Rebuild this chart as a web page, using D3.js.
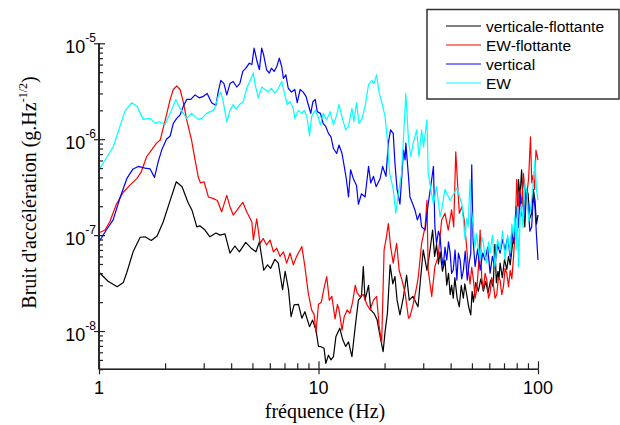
<!DOCTYPE html>
<html><head><meta charset="utf-8">
<script src="https://cdn.jsdelivr.net/npm/d3@7"></script>
<style>body{margin:0;background:#fff}svg{display:block}</style>
</head><body><svg id="c" width="620" height="425"></svg>
<script>
// ---------- data ----------
const seriesNames = ["verticale-flottante", "EW-flottante", "vertical", "EW"];
const xTickValues = [1, 10, 100];
const xTickLabels = ["1", "10", "100"];
const yTickValues = [1e-5, 1e-6, 1e-7, 1e-8];
const yTickExponents = ["-5", "-6", "-7", "-8"];

// [frequency (Hz), noise (g.Hz^-1/2)]
const verticaleFlottante = [[1.0,4.1e-8],[1.1,3.3e-8],[1.21,2.9e-8],[1.29,3.2e-8],[1.34,4.1e-8],[1.43,6.7e-8],[1.54,9.5e-8],[1.62,9.6e-8],[1.73,8.8e-8],[1.84,9.8e-8],[1.96,1.37e-7],[2.11,2.3e-7],[2.25,3.6e-7],[2.39,3.2e-7],[2.55,2.16e-7],[2.65,1.83e-7],[2.79,1.22e-7],[2.88,1.25e-7],[3.04,1.13e-7],[3.2,9.6e-8],[3.41,1.05e-7],[3.56,1.0e-7],[3.75,1.03e-7],[3.95,6.5e-8],[4.16,7.7e-8],[4.36,6.7e-8],[4.66,8.4e-8],[4.97,7.2e-8],[5.19,6.7e-8],[5.38,8.5e-8],[5.63,4.3e-8],[5.86,4.9e-8],[6.05,4.5e-8],[6.33,5.6e-8],[6.56,5.1e-8],[6.86,2.7e-8],[7.05,4.2e-8],[7.3,2.7e-8],[7.5,1.41e-8],[7.74,1.87e-8],[8.1,1.9e-8],[8.4,1.36e-8],[8.67,1.59e-8],[9.1,1.11e-8],[9.4,1.3e-8],[9.74,1.02e-8],[10.0,6.9e-9],[10.2,6.9e-9],[10.6,6.6e-9],[10.8,4.6e-9],[11.1,5.6e-9],[11.4,5.0e-9],[11.7,5.4e-9],[12.0,8.7e-9],[12.5,1.07e-8],[12.9,8.1e-9],[13.3,6.9e-9],[13.7,7.7e-9],[14.2,5.4e-9],[14.7,1.11e-8],[15.2,2.1e-8],[15.7,2.3e-8],[16.0,4.7e-8],[16.3,2.1e-8],[16.9,3.0e-8],[17.3,1.66e-8],[17.9,1.53e-8],[18.5,1.3e-8],[19.1,8.7e-9],[19.7,6.1e-9],[20.1,9.8e-9],[20.6,1.53e-8],[21.2,4.9e-8],[21.8,3.1e-8],[22.3,3.7e-8],[22.8,2.1e-8],[23.5,1.47e-8],[24.4,2.3e-8],[25.2,3.8e-8],[25.9,2.1e-8],[26.9,2.3e-8],[28.4,1.79e-8],[30.0,7.0e-8],[31.2,4.3e-8],[32.0,6.2e-8],[33.1,1.13e-7],[33.8,6.0e-8],[34.5,8.0e-8],[35.2,5.0e-8],[35.8,6.7e-8],[36.7,4.2e-8],[37.7,5.5e-8],[38.4,3.0e-8],[39.1,4.0e-8],[39.8,2.4e-8],[40.4,3.0e-8],[41.1,2.2e-8],[41.8,3.6e-8],[42.8,2.2e-8],[43.8,1.79e-8],[44.7,3.0e-8],[45.7,2.2e-8],[46.4,3.1e-8],[47.2,2.5e-8],[48.3,1.8e-8],[49.4,1.47e-8],[50.1,2.6e-8],[50.8,2.0e-8],[52.0,3.2e-8],[53.5,2.6e-8],[54.9,3.5e-8],[56.4,2.6e-8],[57.8,3.3e-8],[59.2,2.5e-8],[60.8,3.4e-8],[62.5,2.9e-8],[63.6,8.0e-8],[64.6,3.2e-8],[65.7,4.2e-8],[66.4,3.5e-8],[67.2,5.1e-8],[68.8,3.6e-8],[70.4,5.6e-8],[72.1,4.4e-8],[73.4,6.0e-8],[74.7,4.9e-8],[76.0,7.0e-8],[77.4,9.6e-8],[78.5,1.22e-7],[79.5,2.0e-7],[80.5,1.5e-7],[81.5,3.8e-7],[82.8,2.5e-7],[84.2,4.8e-7],[85.6,2.0e-7],[87.1,1.22e-7],[88.6,3.0e-7],[90.1,2.7e-7],[91.8,1.5e-7],[93.6,1.69e-7],[95.2,3.0e-7],[96.9,2.3e-7],[98.4,1.3e-7],[100,1.62e-7]];

const ewFlottante = [[1.0,1.06e-7],[1.065,1.13e-7],[1.12,1.38e-7],[1.2,2.1e-7],[1.29,2.8e-7],[1.38,3.3e-7],[1.49,3.9e-7],[1.56,4.6e-7],[1.65,6.6e-7],[1.74,7.8e-7],[1.83,9.1e-7],[1.9,9.8e-7],[1.96,1.3e-6],[2.03,1.79e-6],[2.11,2.6e-6],[2.18,3.3e-6],[2.26,3.6e-6],[2.34,3.3e-6],[2.42,2.46e-6],[2.51,1.59e-6],[2.64,9.8e-7],[2.74,6.1e-7],[2.83,4.06e-7],[2.9,3.5e-7],[3.01,3.6e-7],[3.15,2.5e-7],[3.32,2.4e-7],[3.46,2.3e-7],[3.62,1.75e-7],[3.82,2.6e-7],[3.95,1.98e-7],[4.09,1.62e-7],[4.31,1.9e-7],[4.52,2.2e-7],[4.71,1.75e-7],[4.97,1.37e-7],[5.05,8.9e-8],[5.23,1.48e-7],[5.42,8.2e-8],[5.6,9.2e-8],[5.8,7.9e-8],[6.02,8.9e-8],[6.23,6.7e-8],[6.45,7.3e-8],[6.68,6.0e-8],[6.92,6.7e-8],[7.16,5.1e-8],[7.42,6.5e-8],[7.68,4.9e-8],[7.95,6.0e-8],[8.4,7.6e-8],[8.67,4.7e-8],[8.98,2.5e-8],[9.3,1.66e-8],[9.54,1.5e-8],[9.74,9.7e-9],[10.0,1.9e-8],[10.3,2.0e-8],[10.6,2.8e-8],[10.9,3.7e-8],[11.2,2.1e-8],[11.5,2.3e-8],[11.9,1.34e-8],[12.2,1.9e-8],[12.4,1.66e-8],[12.8,1.02e-8],[13.1,1.41e-8],[13.5,1.66e-8],[13.9,1.53e-8],[14.3,2.0e-8],[14.7,3.0e-8],[15.0,2.5e-8],[15.4,2.3e-8],[16.0,2.4e-8],[16.6,1.9e-8],[17.2,1.66e-8],[17.8,2.1e-8],[18.4,2.3e-8],[18.9,1.11e-8],[19.4,7.5e-9],[19.9,7.0e-8],[20.4,9.6e-8],[20.8,1.32e-7],[21.3,7.6e-8],[21.9,5.1e-8],[22.7,8.2e-8],[23.3,4.3e-8],[24.0,3.4e-8],[24.8,2.5e-8],[25.7,1.36e-8],[26.1,1.41e-8],[27.0,1.9e-8],[28.0,2.9e-8],[28.5,3.7e-8],[29.5,8.2e-8],[30.6,1.22e-7],[31.2,2.3e-7],[31.6,4.3e-8],[32.8,2.3e-8],[33.9,4.7e-8],[35.1,6.0e-8],[36.4,1.44e-7],[37.7,1.69e-7],[39.0,1.13e-7],[40.4,1.83e-7],[41.3,1.22e-7],[42.2,7.4e-7],[42.8,4.2e-7],[43.8,1.69e-7],[45.0,1.98e-7],[46.1,1.44e-7],[47.3,7.6e-8],[48.1,4.5e-8],[49.0,3.1e-8],[49.9,4.6e-8],[50.8,3.4e-8],[51.7,2.2e-8],[52.6,2.7e-8],[53.5,4.5e-8],[54.5,1.13e-7],[55.4,3.6e-8],[56.4,2.7e-8],[57.4,4.0e-8],[58.5,3.4e-8],[59.5,2.2e-8],[60.5,2.5e-8],[61.5,3.6e-8],[62.6,3.1e-8],[63.7,2.2e-8],[64.9,2.4e-8],[66.0,3.6e-8],[67.2,3.4e-8],[68.4,2.4e-8],[69.6,2.9e-8],[70.8,4.5e-8],[72.1,4.0e-8],[73.4,2.9e-8],[74.7,4.3e-8],[76.0,3.5e-8],[77.4,6.0e-8],[78.7,1.1e-7],[80,3.8e-7],[81.4,2.0e-7],[82.9,3.0e-7],[84.4,2.0e-7],[85.9,4.4e-7],[87.5,2.4e-7],[89.1,2.7e-7],[90.7,4.0e-7],[92.4,1.06e-6],[93.7,3.5e-7],[95,4.2e-7],[96.5,3.0e-7],[97.9,7.7e-7],[100,6.1e-7]];

const vertical = [[1.0,8.5e-8],[1.08,1.13e-7],[1.16,1.44e-7],[1.25,2.5e-7],[1.34,3.9e-7],[1.43,4.9e-7],[1.51,5.2e-7],[1.62,5.0e-7],[1.71,4.9e-7],[1.79,4.0e-7],[1.86,5.8e-7],[1.93,7.7e-7],[2.03,1.0e-6],[2.11,1.08e-6],[2.18,1.46e-6],[2.26,1.65e-6],[2.34,1.79e-6],[2.42,2.2e-6],[2.51,2.6e-6],[2.62,2.6e-6],[2.74,2.9e-6],[2.86,2.7e-6],[2.99,2.8e-6],[3.11,3.0e-6],[3.26,2.4e-6],[3.41,2.25e-6],[3.49,3.1e-6],[3.59,4.1e-6],[3.71,3.8e-6],[3.82,2.9e-6],[3.95,3.8e-6],[4.09,4.0e-6],[4.24,3.5e-6],[4.38,3.8e-6],[4.52,5.1e-6],[4.67,5.5e-6],[4.84,6.2e-6],[4.97,6.0e-6],[5.09,8.9e-6],[5.23,6.7e-6],[5.38,5.3e-6],[5.51,8.9e-6],[5.63,7.5e-6],[5.8,5.3e-6],[5.97,4.9e-6],[6.1,5.5e-6],[6.28,5.1e-6],[6.45,5.7e-6],[6.63,7.0e-6],[6.8,5.7e-6],[6.92,4.3e-6],[7.1,4.7e-6],[7.28,3.4e-6],[7.54,3.1e-6],[7.8,3.3e-6],[8.0,2.4e-6],[8.25,3.3e-6],[8.52,3.1e-6],[8.77,2.8e-6],[8.98,2.3e-6],[9.22,1.86e-6],[9.43,2.46e-6],[9.66,2.6e-6],[9.87,1.94e-6],[10.2,1.86e-6],[10.5,1.46e-6],[10.8,1.35e-6],[11.1,1.15e-6],[11.4,1.06e-6],[11.7,8.0e-7],[12.1,7.1e-7],[12.4,8.7e-7],[12.8,7.1e-7],[13.1,5.2e-7],[13.4,3.8e-7],[13.7,2.5e-7],[14.0,4.8e-7],[14.4,3.9e-7],[14.9,3.3e-7],[15.2,2.1e-7],[15.7,2.7e-7],[16.3,2.5e-7],[16.9,5.2e-7],[17.3,3.5e-7],[17.8,4.1e-7],[18.3,3.2e-7],[19.1,3.9e-7],[19.6,5.2e-7],[20.3,4.1e-7],[20.8,9.1e-7],[21.3,1.25e-6],[21.9,1.15e-6],[22.3,5.6e-7],[22.8,3.0e-7],[23.5,2.1e-7],[24.4,7.7e-7],[24.8,6.1e-7],[25.0,9.1e-7],[25.7,4.1e-7],[26.1,2.5e-7],[26.9,2.1e-7],[27.5,1.83e-7],[28.2,1.44e-7],[29.0,1.69e-7],[29.5,1.22e-7],[30.6,1.13e-7],[31.6,2.1e-7],[32.5,3.3e-7],[33.4,5.2e-7],[33.9,1.22e-7],[34.5,8.2e-8],[35.2,1.1e-7],[35.8,9.6e-8],[36.4,6.0e-8],[37.0,4.7e-8],[37.7,7.5e-8],[38.4,5.5e-8],[39.1,8.5e-8],[39.8,6.5e-8],[40.4,4.0e-8],[41.1,4.3e-8],[41.9,7.0e-8],[42.7,3.4e-8],[43.4,6.5e-8],[44.2,5.5e-8],[44.9,3.5e-8],[45.7,4.3e-8],[46.6,6.8e-8],[47.6,3.4e-8],[48.5,5.0e-8],[49.4,6.5e-8],[49.9,5.4e-7],[50.6,8.9e-8],[51.7,4.7e-8],[53.1,7.2e-8],[54.5,4.3e-8],[56.0,6.5e-8],[57.4,5.5e-8],[59.0,7.5e-8],[60.5,4.0e-8],[62.0,6.0e-8],[63.6,4.7e-8],[65.4,8.0e-8],[67.2,6.5e-8],[69.0,9.0e-8],[70.8,7.0e-8],[72.7,9.5e-8],[74.7,6.0e-8],[76.0,1.1e-7],[77.4,8.2e-8],[78.7,1.4e-7],[80.0,1.83e-7],[81.4,1.2e-7],[82.9,2.7e-7],[84.4,1.6e-7],[85.9,1.44e-7],[88.0,3.0e-7],[90.1,2.1e-7],[91.8,1.1e-7],[93.6,1.22e-7],[95.2,2.6e-7],[96.9,1.98e-7],[98.4,1.0e-7],[100,5.5e-8]];

const ew = [[1.0,4.8e-7],[1.16,8.3e-7],[1.31,1.94e-6],[1.41,2.4e-6],[1.49,2.2e-6],[1.59,1.61e-6],[1.71,1.65e-6],[1.8,1.46e-6],[1.88,1.52e-6],[2.0,1.43e-6],[2.11,1.86e-6],[2.24,2.6e-6],[2.34,2.1e-6],[2.42,1.86e-6],[2.51,1.65e-6],[2.64,1.86e-6],[2.83,1.61e-6],[2.95,1.66e-6],[3.09,1.86e-6],[3.32,2.0e-6],[3.38,2.15e-6],[3.49,2.8e-6],[3.59,3.1e-6],[3.68,2.46e-6],[3.82,1.52e-6],[3.95,2.0e-6],[4.09,2.3e-6],[4.21,2.05e-6],[4.36,2.3e-6],[4.54,2.46e-6],[4.71,3.4e-6],[4.88,4.1e-6],[5.05,4.9e-6],[5.13,3.8e-6],[5.32,2.7e-6],[5.51,3.5e-6],[5.7,3.3e-6],[5.9,3.1e-6],[6.1,3.4e-6],[6.33,3.0e-6],[6.56,3.4e-6],[6.8,4.0e-6],[7.05,2.8e-6],[7.2,2.3e-6],[7.42,2.46e-6],[7.68,2.1e-6],[7.8,1.65e-6],[8.1,2.0e-6],[8.4,1.86e-6],[8.6,2.0e-6],[8.85,1.72e-6],[9.1,1.08e-6],[9.3,1.72e-6],[9.66,2.0e-6],[10.0,1.65e-6],[10.2,1.41e-6],[10.5,1.86e-6],[10.9,1.59e-6],[11.3,1.94e-6],[11.7,1.41e-6],[12.1,1.79e-6],[12.4,2.3e-6],[12.9,1.59e-6],[13.3,1.25e-6],[13.7,1.35e-6],[14.2,2.1e-6],[14.5,1.52e-6],[14.9,2.4e-6],[15.3,1.46e-6],[15.8,1.66e-6],[16.3,2.2e-6],[16.9,3.7e-6],[17.5,4.1e-6],[17.9,3.8e-6],[18.4,4.7e-6],[18.9,3.0e-6],[19.4,2.46e-6],[20.1,1.72e-6],[20.6,9.8e-7],[20.8,6.6e-7],[21.1,4.4e-7],[21.9,3.0e-7],[22.5,1.69e-7],[23.1,2.7e-7],[23.9,4.4e-7],[24.5,1.25e-6],[25.0,3.0e-6],[25.7,9.8e-7],[26.3,6.6e-7],[27.0,9.1e-7],[28.0,1.25e-6],[28.7,6.6e-7],[29.5,1.25e-6],[30.1,8.3e-7],[31.2,1.59e-6],[31.6,4.4e-7],[32.5,3.0e-7],[33.4,2.1e-7],[34.5,3.2e-7],[35.8,1.56e-7],[36.4,1.83e-7],[37.7,3.0e-7],[39.8,2.3e-7],[42.7,3.1e-7],[45.0,2.1e-7],[46.5,9.2e-8],[47.3,1.5e-7],[48.1,1.22e-7],[49.0,3.8e-7],[49.8,1.8e-7],[50.6,1.27e-7],[51.6,7.5e-8],[52.6,1.04e-7],[53.5,7.0e-8],[54.5,5.5e-8],[55.4,9.5e-8],[56.4,8.2e-8],[57.4,6.0e-8],[58.5,5.1e-8],[59.5,8.5e-8],[60.5,6.5e-8],[62.0,1.0e-7],[63.6,4.7e-8],[65.4,9.0e-8],[67.2,7.0e-8],[69.0,1.1e-7],[70.8,5.5e-8],[72.7,1.0e-7],[74.7,6.5e-8],[76.0,1.3e-7],[77.4,9.6e-8],[78.5,1.6e-7],[79.5,7.0e-8],[80.5,2.0e-7],[81.6,4.7e-8],[82.9,1.5e-7],[84.2,2.1e-7],[85.5,1.2e-7],[87.2,3.5e-7],[89.1,2.7e-7],[90.7,1.4e-7],[92.4,1.83e-7],[94.6,3.0e-7],[96.9,6.1e-7],[98.4,3.0e-7],[100,2.3e-7]];

// ---------- drawing ----------
const seriesData = [verticaleFlottante, ewFlottante, vertical, ew];
const colors = ["#000000", "#ff0000", "#0000ff", "#00ffff"];
const sans = "'Liberation Sans', Arial, sans-serif";
const serif = "'Liberation Serif', 'Times New Roman', serif";

const svg = d3.select("#c");
const x = d3.scaleLog().domain([1, 100]).range([99, 538]);
const y = d3.scaleLog().domain([3.99e-9, 1e-5]).range([369.3, 43.3]);

// series
const line = d3.line().x(d => x(d[0])).y(d => y(d[1]));
seriesData.forEach((s, i) => {
  svg.append("path").datum(s).attr("d", line)
    .attr("fill", "none").attr("stroke", colors[i])
    .attr("stroke-width", 1.2).attr("stroke-linejoin", "round");
});

// minor tick values
const xMinor = [];
[1, 10].forEach(dec => { for (let m = 2; m <= 9; m++) xMinor.push(m * dec); });
const yMinor = [];
[1e-9, 1e-8, 1e-7, 1e-6].forEach(dec => { for (let m = 2; m <= 9; m++) { const v = m * dec; if (v >= 3.99e-9 && v < 1e-5) yMinor.push(v); } });

function styleAxis(g) {
  g.select(".domain").attr("stroke", "#222").attr("stroke-width", 1.3);
  g.selectAll(".tick line").attr("stroke", "#222").attr("stroke-width", 1.2);
}

// x axis
const gx = svg.append("g").attr("transform", "translate(0,369.3)");
gx.append("g").call(d3.axisBottom(x).tickValues(xMinor).tickFormat("").tickSizeInner(-6).tickSizeOuter(0)).call(styleAxis);
gx.append("g").call(d3.axisBottom(x).tickValues(xTickValues).tickFormat("").tickSizeInner(5).tickSizeOuter(0)).call(styleAxis);
gx.append("g").call(d3.axisBottom(x).tickValues(xTickValues).tickFormat("").tickSizeInner(-8).tickSizeOuter(0)).call(styleAxis);
gx.selectAll(".domain").attr("d", `M${x(1)},0H${x(100)}`);

xTickValues.forEach((v, i) => {
  svg.append("text").attr("x", x(v)).attr("y", 393.5).attr("text-anchor", "middle")
    .attr("font-family", sans).attr("font-size", 18).attr("fill", "#000").text(xTickLabels[i]);
});

// y axis
const gy = svg.append("g").attr("transform", "translate(99,0)");
gy.append("g").call(d3.axisLeft(y).tickValues(yMinor).tickFormat("").tickSizeInner(-4).tickSizeOuter(0)).call(styleAxis);
gy.append("g").call(d3.axisLeft(y).tickValues(yTickValues).tickFormat("").tickSizeInner(5).tickSizeOuter(0)).call(styleAxis);
gy.append("g").call(d3.axisLeft(y).tickValues(yTickValues).tickFormat("").tickSizeInner(-6).tickSizeOuter(0)).call(styleAxis);
gy.selectAll(".domain").attr("d", `M0,${y(1e-5)}V${y(3.99e-9)}`);

yTickValues.forEach((v, i) => {
  const t = svg.append("text").attr("x", 96).attr("y", y(v) + 10).attr("text-anchor", "end")
    .attr("font-family", sans).attr("font-size", 18).attr("fill", "#000");
  t.append("tspan").text("10");
  t.append("tspan").attr("dy", -11).attr("font-size", 12).text(yTickExponents[i]);
});

// axis titles
svg.append("text").attr("x", 325).attr("y", 418).attr("text-anchor", "middle")
  .attr("font-family", serif).attr("font-size", 20).attr("fill", "#000").text("fréquence (Hz)");

const yt = svg.append("text").attr("transform", "translate(36,192.5) rotate(-90)")
  .attr("text-anchor", "middle").attr("font-family", serif).attr("font-size", 20).attr("fill", "#000");
yt.append("tspan").text("Bruit d'accélération (g.Hz");
yt.append("tspan").attr("dy", -9).attr("font-size", 12).text("-1/2");
yt.append("tspan").attr("dy", 9).text(")");

// legend
const lg = svg.append("g");
lg.append("rect").attr("x", 427).attr("y", 9.5).attr("width", 192).attr("height", 89.5)
  .attr("fill", "#fff").attr("stroke", "#333").attr("stroke-width", 1.5);
seriesNames.forEach((name, i) => {
  const cy = 26 + i * 19;
  lg.append("line").attr("x1", 446).attr("x2", 481).attr("y1", cy).attr("y2", cy)
    .attr("stroke", colors[i]).attr("stroke-width", 1.2);
  lg.append("text").attr("x", 486).attr("y", cy + 5.5).attr("font-family", sans)
    .attr("font-size", 15.5).attr("fill", "#000").text(name);
});
</script>
</body></html>
